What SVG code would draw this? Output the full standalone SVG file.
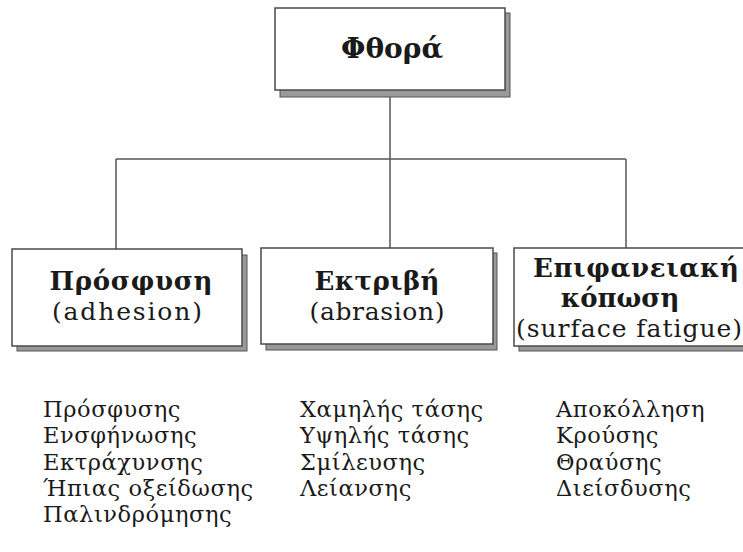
<svg xmlns="http://www.w3.org/2000/svg" width="743" height="552" viewBox="0 0 743 552">
<style>
.box{fill:#fff;stroke:#4a4a4a;stroke-width:1.5}
.sh{fill:#999;stroke:#555;stroke-width:1}
.t{font-family:"DejaVu Serif","Liberation Serif",serif;fill:#1a1a1a}
.b{font-weight:bold;font-size:26px}
.s{font-size:25px}
.c{text-anchor:middle}
.l{font-size:22.5px;letter-spacing:0.6px}
.con{stroke:#555;stroke-width:1.5;fill:none}
</style>
<rect width="743" height="552" fill="#fff"/>
<g id="connectors">
<path class="con" d="M390 97V159M116 159H626M116 159V249M390 159V248M626 159V248"/>
</g>
<g id="n-fthora">
<rect class="sh" x="280" y="13" width="230" height="84"/>
<rect class="box" x="275" y="8" width="230" height="82"/>
<text class="t b c" x="392" y="58" style="font-size:28px">Φθορά</text>
</g>
<g id="n-prosfysi">
<rect class="sh" x="17" y="255" width="230" height="96"/>
<rect class="box" x="12" y="249" width="230" height="97"/>
<text class="t b c" x="131" y="290" textLength="163">Πρόσφυση</text>
<text class="t s c" x="127" y="320" textLength="150">(adhesion)</text>
</g>
<g id="n-ektrivi">
<rect class="sh" x="266" y="253" width="231" height="97"/>
<rect class="box" x="261" y="248" width="232" height="96"/>
<text class="t b c" x="377" y="290" textLength="125">Εκτριβή</text>
<text class="t s c" x="377" y="320" textLength="135">(abrasion)</text>
</g>
<g id="n-epifaneiaki">
<rect class="sh" x="519" y="253" width="232" height="98"/>
<rect class="box" x="514" y="248" width="232" height="98"/>
<text class="t b c" x="636" y="277" textLength="206">Επιφανειακή</text>
<text class="t b c" x="620" y="307">κόπωση</text>
<text class="t s c" x="629" y="337" textLength="226">(surface fatigue)</text>
</g>
<g id="list1" class="t l">
<text x="43" y="417">Πρόσφυσης</text>
<text x="43" y="443">Ενσφήνωσης</text>
<text x="43" y="470">Εκτράχυνσης</text>
<text x="43" y="496">Ήπιας οξείδωσης</text>
<text x="43" y="522">Παλινδρόμησης</text>
</g>
<g id="list2" class="t l">
<text x="300" y="417">Χαμηλής τάσης</text>
<text x="300" y="443">Υψηλής τάσης</text>
<text x="300" y="470">Σμίλευσης</text>
<text x="300" y="496">Λείανσης</text>
</g>
<g id="list3" class="t l">
<text x="556" y="417">Αποκόλληση</text>
<text x="556" y="443">Κρούσης</text>
<text x="556" y="470">Θραύσης</text>
<text x="556" y="496">Διείσδυσης</text>
</g>
</svg>
